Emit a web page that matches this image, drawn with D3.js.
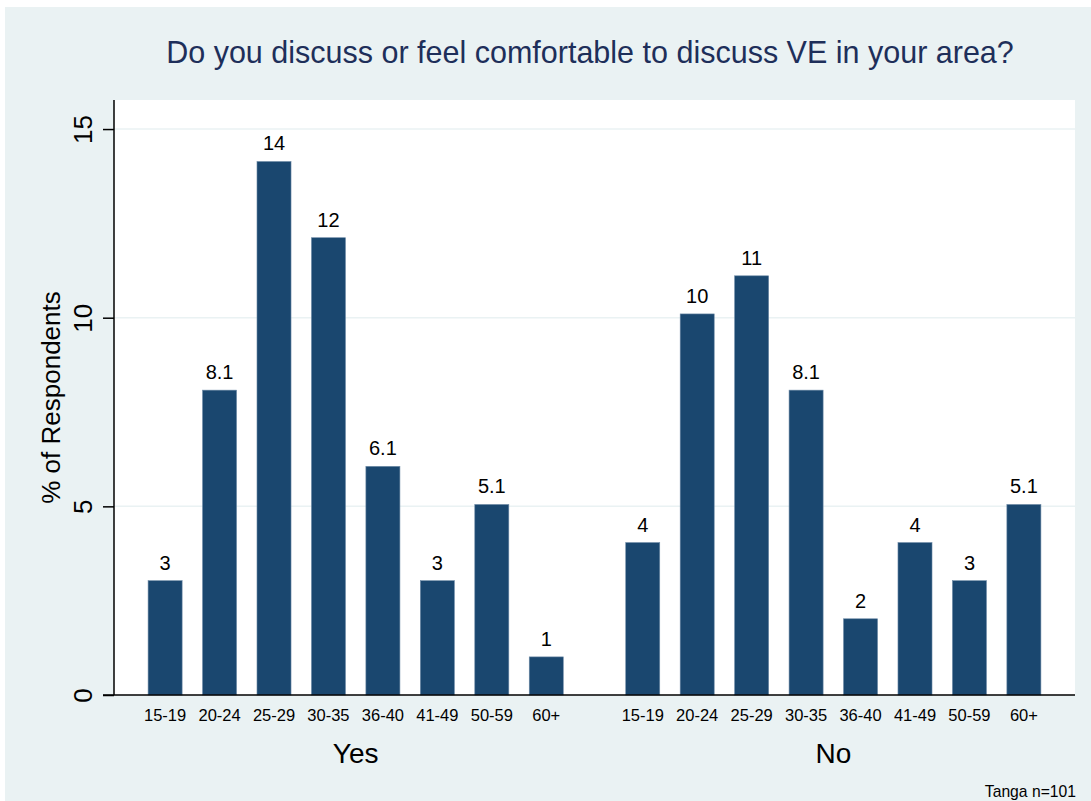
<!DOCTYPE html>
<html>
<head>
<meta charset="utf-8">
<script src="https://cdn.jsdelivr.net/npm/d3@7"></script>
<style>
  html, body { margin: 0; padding: 0; background: #ffffff; }
  svg { display: block; font-family: "Liberation Sans", Arial, Helvetica, sans-serif; }
</style>
</head>
<body>
<svg id="chart" width="1091" height="801"></svg>
<script>
// ---- data ----
const groups = ["Yes", "No"];
const ageGroups = ["15-19", "20-24", "25-29", "30-35", "36-40", "41-49", "50-59", "60+"];
const yesValues = [3.03, 8.08, 14.14, 12.12, 6.06, 3.03, 5.05, 1.01];
const noValues = [4.04, 10.1, 11.11, 8.08, 2.02, 4.04, 3.03, 5.05];
const yesLabels = ["3", "8.1", "14", "12", "6.1", "3", "5.1", "1"];
const noLabels = ["4", "10", "11", "8.1", "2", "4", "3", "5.1"];
const yTicks = [0, 5, 10, 15];
const titleText = "Do you discuss or feel comfortable to discuss VE in your area?";
const yTitle = "% of Respondents";
const noteText = "Tanga n=101";

const rows = [];
groups.forEach((g, gi) => {
  const vals = gi === 0 ? yesValues : noValues;
  const labs = gi === 0 ? yesLabels : noLabels;
  ageGroups.forEach((a, i) => rows.push({ group: g, age: a, value: vals[i], label: labs[i] }));
});

// ---- layout ----
const svg = d3.select("#chart");
const plot = { left: 114, right: 1075, top: 100, bottom: 695 };
const barColor = "#1a476f";
const bgColor = "#eaf2f3";

svg.append("rect").attr("x", 5).attr("y", 7).attr("width", 1086).attr("height", 794).attr("fill", bgColor);
svg.append("rect").attr("x", plot.left).attr("y", plot.top)
  .attr("width", plot.right - plot.left).attr("height", plot.bottom - plot.top).attr("fill", "#ffffff");

const x0 = d3.scaleBand().domain(groups).range([plot.left, plot.right])
  .paddingInner(0.088).paddingOuter(0.05);
const x1 = d3.scaleBand().domain(ageGroups).range([0, x0.bandwidth()])
  .paddingInner(0.375).paddingOuter(0.1875);
const y = d3.scaleLinear().domain([0, 15.77]).range([plot.bottom, plot.top]);

// gridlines
svg.append("g").selectAll("line").data(yTicks.filter(d => d > 0)).join("line")
  .attr("x1", plot.left).attr("x2", plot.right)
  .attr("y1", d => y(d)).attr("y2", d => y(d))
  .attr("stroke", bgColor).attr("stroke-width", 1.5);

// bars
svg.append("g").selectAll("rect").data(rows).join("rect")
  .attr("x", d => x0(d.group) + x1(d.age))
  .attr("width", x1.bandwidth())
  .attr("y", d => y(d.value))
  .attr("height", d => y(0) - y(d.value))
  .attr("fill", barColor)
  .attr("stroke", "#6d8aa6").attr("stroke-width", 0.6);

// bar labels
svg.append("g").selectAll("text").data(rows).join("text")
  .attr("x", d => x0(d.group) + x1(d.age) + x1.bandwidth() / 2)
  .attr("y", d => y(d.value) - 11)
  .attr("text-anchor", "middle").attr("font-size", 20).attr("fill", "#000")
  .text(d => d.label);

// y axis
const yAxis = d3.axisLeft(y).tickValues(yTicks).tickSize(11).tickFormat(d3.format("d"));
const yg = svg.append("g").attr("transform", `translate(${plot.left},0)`).call(yAxis);
yg.select(".domain").attr("stroke", "#000").attr("stroke-width", 1.5)
  .attr("d", `M0,${plot.top}V${plot.bottom}`);
yg.selectAll(".tick line").attr("stroke", "#000").attr("stroke-width", 1.5);
yg.selectAll(".tick text")
  .attr("x", null).attr("dy", null)
  .attr("transform", "translate(-22,0) rotate(-90)")
  .attr("text-anchor", "middle").attr("font-size", 26).attr("fill", "#000")
  .attr("font-family", "\"Liberation Sans\", Arial, sans-serif");

// x axis baseline
svg.append("line").attr("x1", plot.left - 11).attr("x2", plot.right)
  .attr("y1", plot.bottom).attr("y2", plot.bottom).attr("stroke", "#000").attr("stroke-width", 1.5);

// x tick labels
svg.append("g").selectAll("text").data(rows).join("text")
  .attr("x", d => x0(d.group) + x1(d.age) + x1.bandwidth() / 2)
  .attr("y", 721)
  .attr("text-anchor", "middle").attr("font-size", 16.5).attr("fill", "#000")
  .text(d => d.age);

// group labels
svg.append("g").selectAll("text").data(groups).join("text")
  .attr("x", d => x0(d) + x0.bandwidth() / 2)
  .attr("y", 763)
  .attr("text-anchor", "middle").attr("font-size", 28).attr("fill", "#000")
  .text(d => d);

// y title
svg.append("text")
  .attr("transform", `translate(60,${(plot.top + plot.bottom) / 2}) rotate(-90)`)
  .attr("text-anchor", "middle").attr("font-size", 26).attr("fill", "#000")
  .text(yTitle);

// title
svg.append("text").attr("x", 590).attr("y", 63)
  .attr("text-anchor", "middle").attr("font-size", 30.5).attr("fill", "#1e2f5a")
  .text(titleText);

// note
svg.append("text").attr("x", 1076).attr("y", 797)
  .attr("text-anchor", "end").attr("font-size", 15.7).attr("fill", "#000")
  .text(noteText);
</script>
</body>
</html>
